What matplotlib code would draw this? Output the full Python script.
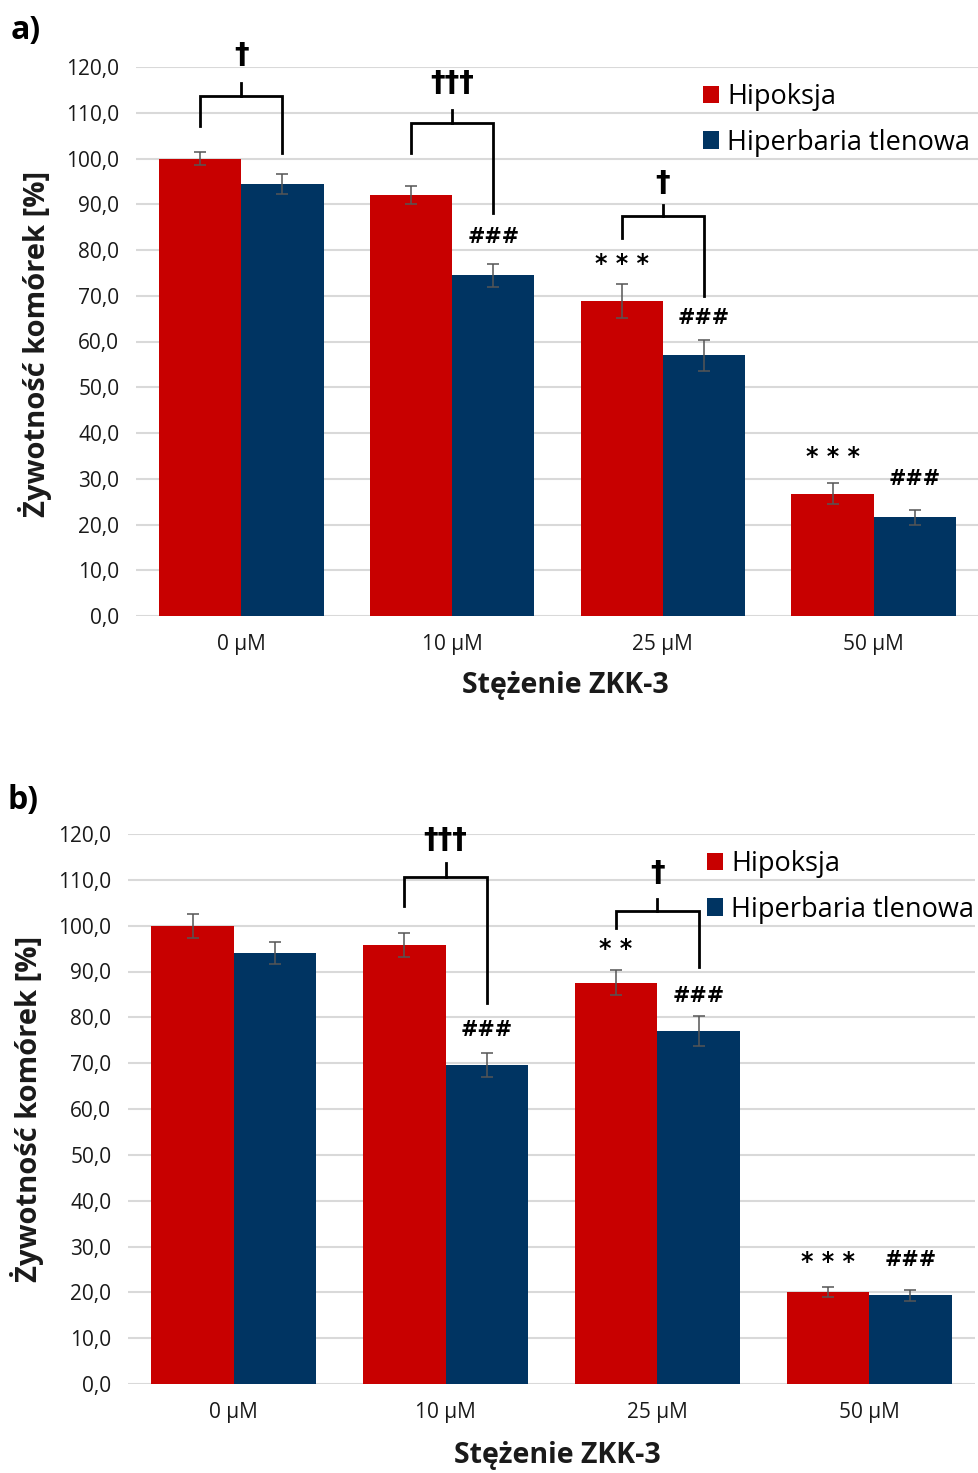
import matplotlib
matplotlib.use("Agg")
import matplotlib.pyplot as plt
from matplotlib.patches import Patch
import numpy as np

# ---------------- data ----------------
categories = ["0 µM", "10 µM", "25 µM", "50 µM"]
series_names = ["Hipoksja", "Hiperbaria tlenowa"]

hip_a = [100.0, 92.0, 68.9, 26.7]
hbo_a = [94.5, 74.5, 57.0, 21.6]
hip_a_err = [1.5, 2.0, 3.7, 2.3]
hbo_a_err = [2.2, 2.5, 3.4, 1.6]

hip_b = [100.0, 95.8, 87.6, 20.1]
hbo_b = [94.0, 69.6, 77.0, 19.4]
hip_b_err = [2.6, 2.6, 2.7, 1.1]
hbo_b_err = [2.4, 2.6, 3.3, 1.2]

yticks = [0, 10, 20, 30, 40, 50, 60, 70, 80, 90, 100, 110, 120]
ylabel = "Żywotność komórek [%]"
xlabel = "Stężenie ZKK-3"

RED = "#C80000"
BLUE = "#003462"
GRID = "#D9D9D9"
TXT = "#1a1a1a"

plt.rcParams['font.family'] = ['Open Sans', 'DejaVu Sans']

W, H = 979, 1473
fig = plt.figure(figsize=(W / 100, H / 100), dpi=100)


def fx(px):
    return px / W


def fy(py):
    return 1 - py / H


BW = 0.39


def panel(rect, hip, hbo, hip_err, hbo_err, brackets, marks, legend_xy):
    ax = fig.add_axes(rect)
    x = np.arange(len(categories))
    ax.bar(x - BW / 2, hip, BW, color=RED, zorder=3, label=series_names[0])
    ax.bar(x + BW / 2, hbo, BW, color=BLUE, zorder=3, label=series_names[1])
    ax.errorbar(x - BW / 2, hip, yerr=hip_err, fmt="none", ecolor="#555555",
                elinewidth=1.1, capsize=4, capthick=1.1, zorder=4)
    ax.errorbar(x + BW / 2, hbo, yerr=hbo_err, fmt="none", ecolor="#555555",
                elinewidth=1.1, capsize=4, capthick=1.1, zorder=4)
    ax.set_xlim(-0.5, 3.5)
    ax.set_ylim(0, 120)
    ax.set_yticks(yticks)
    ax.set_yticklabels([f"{v:.1f}".replace(".", ",") for v in yticks],
                       fontsize=15, color=TXT)
    ax.set_xticks(x)
    ax.set_xticklabels(categories, fontsize=15, color=TXT)
    ax.tick_params(axis="both", length=0)
    ax.tick_params(axis="y", pad=12)
    ax.tick_params(axis="x", pad=13)
    for s in ax.spines.values():
        s.set_visible(False)
    ax.yaxis.grid(True, color=GRID, linewidth=1.5, zorder=0)
    ax.set_axisbelow(True)

    # brackets: (group, left_bottom, right_bottom, top, tick_top, text, text_y)
    for g, lb, rb, top, tt, txt, ty in brackets:
        xl, xr = g - BW / 2, g + BW / 2
        ax.plot([xl, xl, xr, xr], [lb, top, top, rb], color="black", lw=2.0,
                clip_on=False, zorder=5, solid_joinstyle="miter")
        ax.plot([g, g], [top, tt], color="black", lw=2.0, clip_on=False, zorder=5)
        ax.text(g, ty, txt, ha="center", va="center", fontsize=21,
                fontweight="bold", clip_on=False, family=["DejaVu Sans"])
    # significance marks: (x, y, text)
    for mx, my, txt in marks:
        fs = 17 if "*" in txt else 15
        ax.text(mx, my, txt, ha="center", va="center", fontsize=fs,
                fontweight="bold", family=["DejaVu Sans"])

    handles = [Patch(facecolor=RED, edgecolor="none"),
               Patch(facecolor=BLUE, edgecolor="none")]
    fig.legend(handles, series_names, loc="upper left",
               bbox_to_anchor=legend_xy, frameon=False, fontsize=19.5,
               handlelength=0.6, handleheight=0.6, handletextpad=0.3,
               labelspacing=0.65, borderaxespad=0, borderpad=0)
    return ax


# ---------------- panel a ----------------
rect_a = [fx(136), fy(616), fx(979 - 136), (616 - 67) / H]
br_a = [
    (0, 107.1, 101.2, 113.7, 116.5, "†", 122.6),
    (1, 101.2, 88.1, 107.8, 110.6, "†††", 116.5),
    (2, 82.6, 69.9, 87.4, 89.8, "†", 94.6),
]
mk_a = [
    (1 + BW / 2, 82.8, "###"),
    (2 - BW / 2, 77.0, "* * *"),
    (2 + BW / 2, 65.1, "###"),
    (3 - BW / 2, 34.8, "* * *"),
    (3 + BW / 2, 29.9, "###"),
]
panel(rect_a, hip_a, hbo_a, hip_a_err, hbo_a_err, br_a, mk_a,
      (fx(703), fy(83)))

# ---------------- panel b ----------------
rect_b = [fx(128), fy(1384), fx(975 - 128), (1384 - 834) / H]
br_b = [
    (1, 104.3, 83.2, 110.7, 113.6, "†††", 118.7),
    (2, 99.4, 90.9, 103.2, 105.8, "†", 111.6),
]
mk_b = [
    (1 + BW / 2, 77.2, "###"),
    (2 - BW / 2, 94.8, "* *"),
    (2 + BW / 2, 84.7, "###"),
    (3 - BW / 2, 26.7, "* * *"),
    (3 + BW / 2, 27.1, "###"),
]
panel(rect_b, hip_b, hbo_b, hip_b_err, hbo_b_err, br_b, mk_b,
      (fx(707), fy(850)))

# ---------------- labels ----------------
fig.text(fx(35), fy(344), ylabel, rotation=90, ha="center", va="center",
         fontsize=21, fontweight="bold", color=TXT)
fig.text(fx(27), fy(1109), ylabel, rotation=90, ha="center", va="center",
         fontsize=21, fontweight="bold", color=TXT)
fig.text(fx(565), fy(686), xlabel, ha="center", va="center",
         fontsize=20.5, fontweight="bold", color=TXT)
fig.text(fx(557), fy(1455), xlabel, ha="center", va="center",
         fontsize=20.5, fontweight="bold", color=TXT)
fig.text(fx(11), fy(30), "a)", ha="left", va="center", fontsize=23,
         fontweight="bold", color="black")
fig.text(fx(7), fy(801), "b)", ha="left", va="center", fontsize=23,
         fontweight="bold", color="black")

fig.savefig("out.png", dpi=100)
